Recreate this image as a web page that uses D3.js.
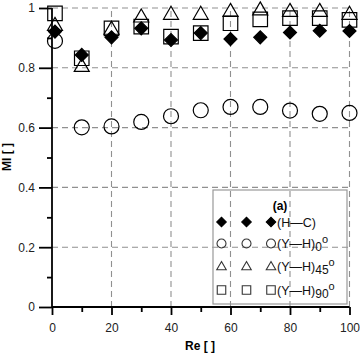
<!DOCTYPE html>
<html><head><meta charset="utf-8">
<script src="https://cdn.jsdelivr.net/npm/d3@7"></script>
<style>body{margin:0;background:#fff}svg{display:block}text{font-family:"Liberation Sans",Arial,sans-serif}</style>
</head><body>
<svg id="c" width="360" height="355"></svg>
<script>
const re = [1, 10, 20, 30, 40, 50, 60, 70, 80, 90, 100];
const hc   = [0.921, 0.843, 0.902, 0.932, 0.893, 0.916, 0.896, 0.902, 0.918, 0.924, 0.923];
const yh0  = [0.890, 0.601, 0.604, 0.619, 0.638, 0.658, 0.669, 0.669, 0.657, 0.646, 0.649];
const yh45 = [0.943, 0.806, 0.930, 0.971, 0.980, 0.980, 0.990, 0.995, 0.990, 0.990, 0.980];
const yh90 = [0.982, 0.832, 0.932, 0.938, 0.904, 0.916, 0.949, 0.962, 0.966, 0.966, 0.960];
const xTicks = [0, 20, 40, 60, 80, 100];
const yTicks = [0, 0.2, 0.4, 0.6, 0.8, 1];
const yTickLabels = ["0", "0.2", "0.4", "0.6", "0.8", "1"];

const svg = d3.select("#c");
const x = d3.scaleLinear().domain([0, 100]).range([52, 349.5]);
const y = d3.scaleLinear().domain([0, 1]).range([307, 8]);

// legend background (grid drawn on top like reference)
svg.append("rect").attr("x", 213).attr("y", 190).attr("width", 134).attr("height", 114).attr("fill", "#fff");

// grid
const grid = svg.append("g").attr("stroke", "#909090").attr("stroke-width", 1.1).attr("stroke-dasharray", "6,4");
grid.selectAll(".h").data(yTicks.slice(1)).join("line")
  .attr("x1", x(0)).attr("x2", x(100)).attr("y1", d => y(d)).attr("y2", d => y(d));
grid.selectAll(".v").data(xTicks.slice(1)).join("line")
  .attr("y1", y(0)).attr("y2", y(1)).attr("x1", d => x(d)).attr("x2", d => x(d));

// axes
const yAxis = d3.axisLeft(y).tickValues(yTicks).tickFormat((d, i) => yTickLabels[i]).tickSize(13).tickPadding(4);
const ga = svg.append("g").attr("transform", `translate(${x(0)},0)`).call(yAxis);
ga.selectAll(".domain").remove();
ga.append("line").attr("x1", 0).attr("x2", 0).attr("y1", y(0)).attr("y2", y(1)).attr("stroke", "#000").attr("stroke-width", 1.8);
ga.selectAll(".tick line").attr("stroke-width", 1.8);
ga.selectAll("text").attr("font-size", 12).attr("fill", "#222");
const yMinor = d3.axisLeft(y).tickValues([0.1, 0.3, 0.5, 0.7, 0.9]).tickFormat("").tickSize(5);
const gm = svg.append("g").attr("transform", `translate(${x(0)},0)`).call(yMinor);
gm.selectAll(".domain").remove();
gm.selectAll(".tick line").attr("stroke-width", 1.8);

const xAxis = d3.axisBottom(x).tickValues(xTicks).tickSize(8).tickPadding(8);
const gx = svg.append("g").attr("transform", `translate(0,${y(0)})`).call(xAxis);
gx.selectAll(".domain").remove();
gx.append("line").attr("x1", x(0)).attr("x2", x(100)).attr("y1", 0).attr("y2", 0).attr("stroke", "#000").attr("stroke-width", 1.8);
gx.selectAll(".tick line").attr("stroke-width", 1.8);
gx.selectAll("text").attr("font-size", 12).attr("fill", "#222");
const xMinor = d3.axisBottom(x).tickValues([10, 30, 50, 70, 90]).tickFormat("").tickSize(5);
const gxm = svg.append("g").attr("transform", `translate(0,${y(0)})`).call(xMinor);
gxm.selectAll(".domain").remove();
gxm.selectAll(".tick line").attr("stroke-width", 1.8);

svg.append("text").attr("x", 200).attr("y", 350).attr("text-anchor", "middle")
  .attr("font-size", 12).attr("font-weight", "bold").text("Re [ ]");
svg.append("text").attr("transform", "translate(11,157) rotate(-90)").attr("text-anchor", "middle")
  .attr("font-size", 12).attr("font-weight", "bold").text("MI [ ]");

// symbols
const sym = {
  circle: s => d3.symbol(d3.symbolCircle, Math.PI * s * s)(),
  square: s => d3.symbol(d3.symbolSquare, s * s)(),
  triangle: s => d3.symbol(d3.symbolTriangle, Math.sqrt(3) / 4 * s * s)(),
  diamond: s => d3.symbol(d3.symbolSquare, s * s / 2)()
};
const series = [
  { vals: yh0, type: "circle", size: 7.5, fill: "none" },
  { vals: yh45, type: "triangle", size: 15, fill: "none" },
  { vals: yh90, type: "square", size: 14.5, fill: "none" },
  { vals: hc, type: "diamond", size: 13, fill: "#000" }
];
series.forEach(s => {
  svg.append("g").selectAll("path").data(s.vals).join("path")
    .attr("d", sym[s.type](s.size))
    .attr("transform", (d, i) => `translate(${x(re[i])},${y(d)})` + (s.type === "diamond" ? " rotate(45)" : "") + (s.type === "triangle" ? " translate(0,1)" : ""))
    .attr("fill", s.fill).attr("stroke", "#000").attr("stroke-width", 1.2);
});

// legend
const lg = svg.append("g");
lg.append("rect").attr("x", 213).attr("y", 190).attr("width", 134).attr("height", 114)
  .attr("fill", "none").attr("stroke", "#999").attr("stroke-width", 1.2);
lg.append("text").attr("x", 280).attr("y", 210).attr("text-anchor", "middle").attr("font-size", 12).attr("font-weight", "bold").text("(a)");
const legRows = [
  { type: "diamond", size: 9.5, fill: "#000", y: 222, main: "(H\u2014C)", sub: "", sup: "" },
  { type: "circle", size: 4.5, fill: "none", y: 243.5, main: "(Y\u2014H)", sub: "0", sup: "o" },
  { type: "triangle", size: 9.5, fill: "none", y: 266, main: "(Y\u2014H)", sub: "45", sup: "o" },
  { type: "square", size: 8.5, fill: "none", y: 290, main: "(Y\u2014H)", sub: "90", sup: "o" }
];
const legX = [221.5, 246.5, 271];
legRows.forEach(r => {
  legX.forEach(lx => {
    lg.append("path").attr("d", sym[r.type](r.size))
      .attr("transform", `translate(${lx},${r.y})` + (r.type === "diamond" ? " rotate(45)" : "") + (r.type === "triangle" ? " translate(0,1)" : ""))
      .attr("fill", r.fill).attr("stroke", r.fill === "none" ? "#333" : "#000").attr("stroke-width", 1.1);
  });
  const t = lg.append("text").attr("x", 277).attr("y", r.y + 4.5).attr("font-size", 12.5).attr("fill", "#111");
  t.append("tspan").text(r.main);
  if (r.sub) t.append("tspan").attr("dy", 3).attr("font-size", 12).text(r.sub);
  if (r.sup) t.append("tspan").attr("dy", -8).attr("font-size", 11).text(r.sup);
});
</script>
</body></html>
